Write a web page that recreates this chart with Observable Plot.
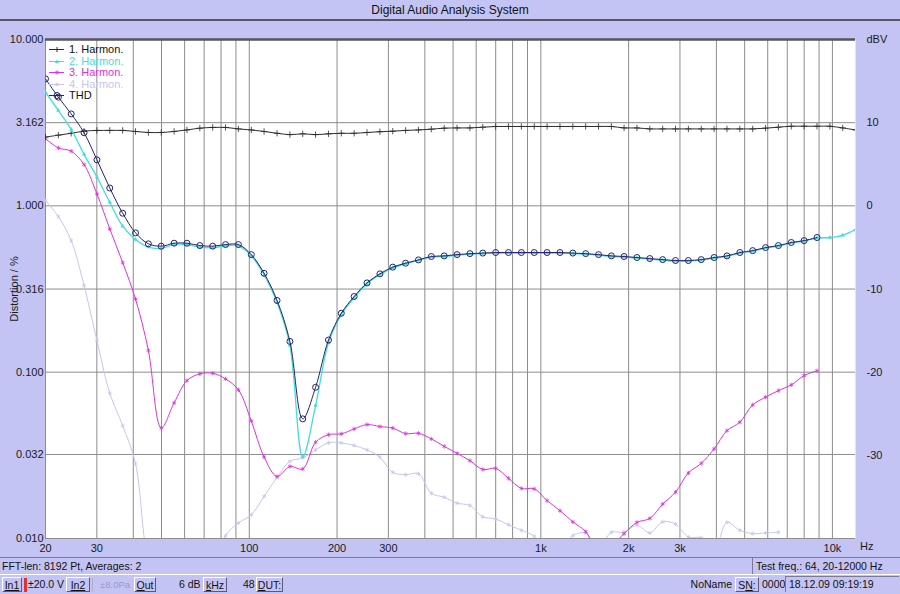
<!DOCTYPE html>
<html><head><meta charset="utf-8">
<script src="https://cdn.jsdelivr.net/npm/d3@7"></script>
<script src="https://cdn.jsdelivr.net/npm/@observablehq/plot@0.6"></script>
<style>
html,body{margin:0;padding:0;background:#c4c4f4;width:900px;height:594px;overflow:hidden;font-family:"Liberation Sans",Arial,sans-serif;color:#111;}
#title{position:absolute;left:0;top:0;width:900px;height:19px;border-bottom:2px solid #55556e;text-align:center;font-size:12px;line-height:21px;}
#chart{position:absolute;left:0;top:22px;width:900px;height:534px;}
#legend{position:absolute;left:48px;top:44px;font-size:11px;}
#legend div{height:11.5px;line-height:11.5px;white-space:nowrap;display:flex;align-items:center;}
#legend svg{margin-right:4px;}
.bar{position:absolute;font-size:10.5px;box-sizing:border-box;}
#row1{left:0;top:557px;width:900px;height:18px;border-top:1px solid #7a7a98;border-bottom:1px solid #ffffff;}
#row1 .l{position:absolute;left:2px;top:2px;}
#row1 .r{position:absolute;left:752px;top:0;width:147px;height:16px;border-left:1px solid #7a7a98;padding-left:3px;line-height:16px;}
#row2{left:0;top:576px;width:900px;height:18px;}
.btn{position:absolute;top:1px;height:15px;line-height:14px;border-top:1px solid #fff;border-left:1px solid #fff;border-right:1px solid #5a5a78;border-bottom:1px solid #5a5a78;text-align:center;box-sizing:border-box;}
.t{position:absolute;top:1px;line-height:15px;white-space:nowrap;}
</style></head>
<body>
<div id="title">Digital Audio Analysis System</div>
<div id="chart"></div>
<div id="legend"></div>
<div class="bar" id="row1"><span class="l">FFT-len: 8192 Pt, Averages: 2</span><span class="r">Test freq.: 64, 20-12000 Hz</span></div>
<div class="bar" id="row2">
  <span class="btn" style="left:2px;width:20px"><u>In1</u></span>
  <span class="t" style="left:24px;width:3px;height:14px;background:#e03030;top:2px"></span>
  <span class="t" style="left:28px">±20.0 V</span>
  <span class="btn" style="left:66px;width:24px"><u>In2</u></span>
  <span class="t" style="left:92px;width:1px;height:14px;background:#b0b0c8;top:2px"></span>
  <span class="t" style="left:100px;color:#9a9ab8;font-size:9.5px">±8.0Pa</span>
  <span class="btn" style="left:134px;width:22px"><u>O</u>ut</span>
  <span class="t" style="left:179px">6 dB</span>
  <span class="btn" style="left:203px;width:24px"><u>k</u>Hz</span>
  <span class="t" style="left:243px">48</span>
  <span class="btn" style="left:256px;width:27px"><u>D</u>UT:</span>
  <span class="t" style="left:680px;width:52px;text-align:right">NoName</span>
  <span class="btn" style="left:735px;width:24px">S<u>N</u>:</span>
  <span class="t" style="left:762px">0000</span>
  <span class="t" style="left:785px;top:0;height:16px;width:114px;border-left:1px solid #7a7a98;border-top:1px solid #7a7a98;padding-left:3px;box-sizing:border-box">18.12.09 09:19:19</span>
</div>
<script>
// Test frequencies (Hz), 64 log-spaced points 20-12000 Hz
const freqs = [20, 22.14, 24.50, 27.12, 30.02, 33.23, 36.79, 40.72, 45.07, 49.89,
  55.23, 61.13, 67.67, 74.90, 82.91, 91.77, 101.6, 112.4, 124.5, 137.8,
  152.5, 168.8, 186.9, 206.8, 228.9, 253.4, 280.5, 310.5, 343.7, 380.4,
  421.1, 466.1, 516.0, 571.1, 632.2, 699.8, 774.6, 857.4, 949.1, 1050.5,
  1162.9, 1287.2, 1424.8, 1577.2, 1745.8, 1929.4, 2135.6, 2364, 2616.8, 2896.6,
  3206.2, 3549.2, 3928.6, 4348.6, 4813.6, 5328.4, 5898, 6528.6, 7226.8, 7999,
  8854.8, 9801.6, 10849.6, 12000];

// Distortion in %
const harm1 = [2.59, 2.66, 2.73, 2.81, 2.84, 2.84, 2.84, 2.80, 2.76, 2.76,
  2.80, 2.86, 2.93, 2.96, 2.96, 2.90, 2.86, 2.80, 2.73, 2.68,
  2.71, 2.68, 2.71, 2.73, 2.73, 2.76, 2.79, 2.81, 2.84, 2.86,
  2.89, 2.93, 2.94, 2.94, 2.97, 3.00, 3.00, 3.00, 3.00, 3.00,
  3.00, 3.00, 3.00, 3.00, 3.00, 2.94, 2.94, 2.90, 2.90, 2.90,
  2.90, 2.90, 2.90, 2.90, 2.90, 2.90, 2.93, 2.97, 3.01, 3.01,
  3.01, 3.01, 2.94, 2.86];
const harm2 = [4.82, 3.74, 2.88, 2.04, 1.49, 1.05, 0.754, 0.627, 0.565, 0.555,
  0.585, 0.585, 0.565, 0.560, 0.575, 0.575, 0.500, 0.385, 0.262, 0.145,
  0.031, 0.063, 0.150, 0.222, 0.280, 0.340, 0.386, 0.424, 0.448, 0.470,
  0.492, 0.496, 0.505, 0.512, 0.516, 0.520, 0.520, 0.520, 0.520, 0.520,
  0.520, 0.516, 0.512, 0.505, 0.496, 0.492, 0.485, 0.478, 0.471, 0.465,
  0.465, 0.471, 0.485, 0.496, 0.520, 0.534, 0.557, 0.573, 0.598, 0.614,
  0.640, 0.645, 0.665, 0.720];
const harm3 = [2.53, 2.23, 2.13, 1.77, 1.18, 0.727, 0.456, 0.275, 0.135, 0.0462,
  0.0654, 0.089, 0.0977, 0.0985, 0.0911, 0.0783, 0.0508, 0.0309, 0.0236, 0.0271,
  0.0262, 0.0379, 0.0421, 0.0426, 0.0456, 0.0484, 0.0471, 0.0461, 0.0427, 0.0429,
  0.0397, 0.0358, 0.0325, 0.0294, 0.0260, 0.0264, 0.0230, 0.0200, 0.0199, 0.0169,
  0.0147, 0.0126, 0.0110, 0.0083, 0.0090, 0.0107, 0.0125, 0.0132, 0.0161, 0.0190,
  0.0248, 0.0283, 0.0346, 0.0445, 0.0500, 0.0636, 0.0707, 0.0775, 0.0839, 0.0954,
  0.102, null, null, null];
const harm4 = [1.076, 0.862, 0.618, 0.332, 0.155, 0.0747, 0.0477, 0.0282, 0.0073, 0.005,
  0.005, 0.005, 0.005, 0.006, 0.0104, 0.0124, 0.0139, 0.0179, 0.0233, 0.0291,
  0.0305, 0.0341, 0.0376, 0.0376, 0.0362, 0.0341, 0.0308, 0.0250, 0.0242, 0.0245,
  0.0187, 0.0177, 0.0163, 0.0158, 0.0135, 0.0131, 0.0121, 0.0112, 0.0103, 0.0080,
  0.0085, 0.0104, 0.0108, 0.0088, 0.0109, 0.0109, 0.0120, 0.0108, 0.0126, 0.0122,
  0.0102, 0.0101, 0.0085, 0.0125, 0.0112, 0.0107, 0.0108, 0.0109, null, null,
  null, null, null, null];
const thd = [5.80, 4.50, 3.57, 2.75, 1.89, 1.28, 0.903, 0.688, 0.591, 0.572,
  0.596, 0.596, 0.577, 0.572, 0.585, 0.585, 0.509, 0.393, 0.270, 0.153,
  0.0524, 0.0811, 0.156, 0.226, 0.285, 0.344, 0.390, 0.428, 0.452, 0.473,
  0.496, 0.500, 0.509, 0.516, 0.520, 0.524, 0.524, 0.524, 0.524, 0.524,
  0.524, 0.520, 0.516, 0.509, 0.500, 0.496, 0.489, 0.482, 0.475, 0.469,
  0.469, 0.475, 0.489, 0.500, 0.524, 0.538, 0.561, 0.577, 0.602, 0.618,
  0.645, null, null, null];

const seriesNames = ["1. Harmon.", "2. Harmon.", "3. Harmon.", "4. Harmon.", "THD"];
const yTicks = [10, 3.162, 1, 0.316, 0.1, 0.032, 0.01];
const yTickLabels = ["10.000", "3.162", "1.000", "0.316", "0.100", "0.032", "0.010"];
const dbvTicks = [20, 10, 0, -10, -20, -30];
const dbvLabels = ["dBV", "10", "0", "-10", "-20", "-30"];
const xTicks = [20, 30, 50, 100, 200, 300, 500, 1000, 2000, 3000, 5000, 10000];
const xTickLabels = ["20", "30", "50", "100", "200", "300", "500", "1k", "2k", "3k", "5k", "10k"];
const xGrid = [20, 30, 40, 50, 60, 70, 80, 90, 100, 200, 300, 400, 500, 600, 700, 800, 900,
  1000, 2000, 3000, 4000, 5000, 6000, 7000, 8000, 9000, 10000];

const colors = {h1: "#2c2c2c", h2: "#40dede", h3: "#e030e0", h4: "#c6c6ee", thd: "#24246e", grid: "#8c8c8c"};

const rows = arr => freqs.map((f, i) => ({f, v: arr[i]})).filter(d => d.v != null);
const d1 = rows(harm1), d2 = rows(harm2), d3r = rows(harm3), d4 = rows(harm4), dT = rows(thd);

const curve = "catmull-rom";
const chart = Plot.plot({
  width: 900, height: 534,
  marginLeft: 45, marginRight: 45, marginTop: 17, marginBottom: 18,
  style: {background: "transparent", fontFamily: "'Liberation Sans', Arial, sans-serif", fontSize: "11px", color: "#1a1a1a"},
  x: {type: "log", domain: [20, 12000]},
  y: {type: "log", domain: [0.01, 10]},
  marks: [
    Plot.frame({fill: "white", stroke: "none"}),
    Plot.ruleX(xGrid, {stroke: colors.grid, strokeWidth: 1}),
    Plot.ruleY(yTicks.slice(1), {stroke: colors.grid, strokeWidth: 1}),
    Plot.ruleY([10], {stroke: "#555", strokeWidth: 2.5}),
    Plot.line(d4, {x: "f", y: "v", stroke: colors.h4, strokeWidth: 1, curve, clip: true}),
    Plot.dot(d4, {x: "f", y: "v", stroke: colors.h4, symbol: "asterisk", r: 2, strokeWidth: 0.8, clip: true}),
    Plot.line(d3r, {x: "f", y: "v", stroke: colors.h3, strokeWidth: 1, curve, clip: true}),
    Plot.dot(d3r, {x: "f", y: "v", stroke: colors.h3, symbol: "asterisk", r: 2, strokeWidth: 0.8, clip: true}),
    Plot.line(d1, {x: "f", y: "v", stroke: colors.h1, strokeWidth: 1, curve, clip: true}),
    Plot.dot(d1, {x: "f", y: "v", stroke: colors.h1, symbol: "plus", r: 2.2, strokeWidth: 0.8, clip: true}),
    Plot.line(d2, {x: "f", y: "v", stroke: colors.h2, strokeWidth: 1.3, curve, clip: true}),
    Plot.dot(d2, {x: "f", y: "v", fill: colors.h2, symbol: "triangle", r: 1.6, clip: true}),
    Plot.line(dT, {x: "f", y: "v", stroke: colors.thd, strokeWidth: 1, curve, clip: true}),
    Plot.dot(dT, {x: "f", y: "v", stroke: colors.thd, fill: "none", r: 3, strokeWidth: 1, clip: true}),
    Plot.axisY(yTicks, {anchor: "left", tickSize: 0, tickPadding: 2,
      tickFormat: d => yTickLabels[yTicks.indexOf(d)],
      label: "Distortion / %", labelAnchor: "center", labelOffset: 35, labelArrow: "none"}),
    Plot.axisY(dbvTicks.map(d => Math.pow(10, d / 20)), {anchor: "right", tickSize: 0, tickPadding: 11,
      tickFormat: (d) => dbvLabels[dbvTicks.indexOf(Math.round(20 * Math.log10(d)))], label: null}),
    Plot.axisX(xTicks, {anchor: "bottom", tickSize: 0, tickPadding: 6,
      tickFormat: d => xTickLabels[xTicks.indexOf(d)], label: null}),
    Plot.text(["Hz"], {frameAnchor: "bottom-right", dx: 18, dy: 11, fill: "#1a1a1a", fontSize: 11})
  ]
});
document.getElementById("chart").appendChild(chart);

// Legend
const legendItems = [
  {name: seriesNames[0], color: colors.h1, text: "#111", mk: "plus"},
  {name: seriesNames[1], color: colors.h2, text: colors.h2, mk: "tri"},
  {name: seriesNames[2], color: colors.h3, text: colors.h3, mk: "star"},
  {name: seriesNames[3], color: colors.h4, text: colors.h4, mk: "star"},
  {name: seriesNames[4], color: colors.thd, text: "#111", mk: "circle"}
];
const leg = document.getElementById("legend");
for (const it of legendItems) {
  let m = "";
  if (it.mk === "plus") m = `<line x1="9" y1="3" x2="9" y2="8" stroke="${it.color}" stroke-width="1"/>`;
  if (it.mk === "tri") m = `<path d="M9,3.5 L11,7 L7,7 Z" fill="${it.color}"/>`;
  if (it.mk === "star") m = `<path d="M7.5,4 L10.5,7 M10.5,4 L7.5,7 M9,3.5 L9,7.5" stroke="${it.color}" stroke-width="0.9"/>`;
  if (it.mk === "circle") m = `<circle cx="9" cy="5.5" r="3" fill="none" stroke="${it.color}" stroke-width="1"/>`;
  leg.insertAdjacentHTML("beforeend",
    `<div><svg width="17" height="11"><line x1="1" y1="5.5" x2="16" y2="5.5" stroke="${it.color}" stroke-width="1"/>${m}</svg><span style="color:${it.text}">${it.name}</span></div>`);
}
</script>
</body></html>
